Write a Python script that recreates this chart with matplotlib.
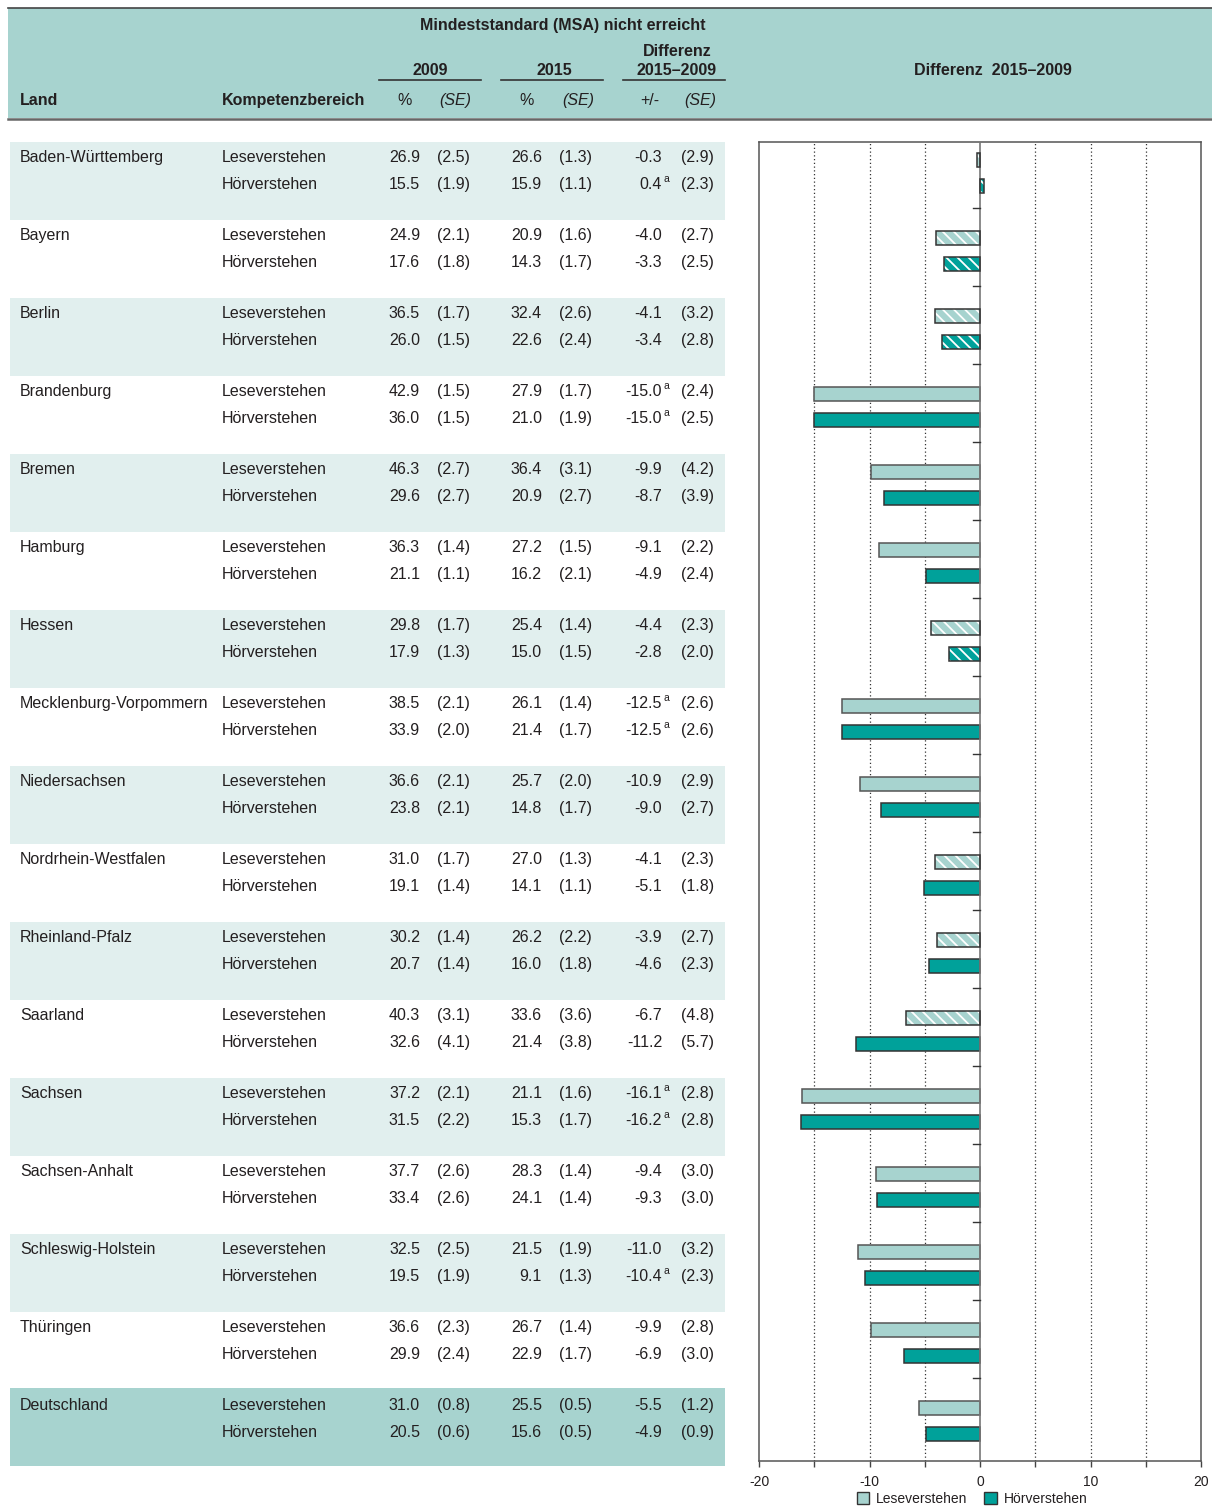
import matplotlib
matplotlib.use("Agg")
import matplotlib.pyplot as plt
from matplotlib.patches import Rectangle, Patch

plt.rcParams['font.family'] = ['Liberation Sans', 'DejaVu Sans']
plt.rcParams['hatch.linewidth'] = 1.3

# ---- data ----
lands = ["Baden-Württemberg", "Bayern", "Berlin", "Brandenburg", "Bremen", "Hamburg",
         "Hessen", "Mecklenburg-Vorpommern", "Niedersachsen", "Nordrhein-Westfalen",
         "Rheinland-Pfalz", "Saarland", "Sachsen", "Sachsen-Anhalt",
         "Schleswig-Holstein", "Thüringen", "Deutschland"]
bereiche = ["Leseverstehen", "Hörverstehen"]

lese_2009 = [26.9, 24.9, 36.5, 42.9, 46.3, 36.3, 29.8, 38.5, 36.6, 31.0, 30.2, 40.3, 37.2, 37.7, 32.5, 36.6, 31.0]
lese_2009_se = [2.5, 2.1, 1.7, 1.5, 2.7, 1.4, 1.7, 2.1, 2.1, 1.7, 1.4, 3.1, 2.1, 2.6, 2.5, 2.3, 0.8]
lese_2015 = [26.6, 20.9, 32.4, 27.9, 36.4, 27.2, 25.4, 26.1, 25.7, 27.0, 26.2, 33.6, 21.1, 28.3, 21.5, 26.7, 25.5]
lese_2015_se = [1.3, 1.6, 2.6, 1.7, 3.1, 1.5, 1.4, 1.4, 2.0, 1.3, 2.2, 3.6, 1.6, 1.4, 1.9, 1.4, 0.5]
lese_diff = [-0.3, -4.0, -4.1, -15.0, -9.9, -9.1, -4.4, -12.5, -10.9, -4.1, -3.9, -6.7, -16.1, -9.4, -11.0, -9.9, -5.5]
lese_diff_se = [2.9, 2.7, 3.2, 2.4, 4.2, 2.2, 2.3, 2.6, 2.9, 2.3, 2.7, 4.8, 2.8, 3.0, 3.2, 2.8, 1.2]
lese_a = [0, 0, 0, 1, 0, 0, 0, 1, 0, 0, 0, 0, 1, 0, 0, 0, 0]
lese_ns = [1, 1, 1, 0, 0, 0, 1, 0, 0, 1, 1, 1, 0, 0, 0, 0, 0]

hoer_2009 = [15.5, 17.6, 26.0, 36.0, 29.6, 21.1, 17.9, 33.9, 23.8, 19.1, 20.7, 32.6, 31.5, 33.4, 19.5, 29.9, 20.5]
hoer_2009_se = [1.9, 1.8, 1.5, 1.5, 2.7, 1.1, 1.3, 2.0, 2.1, 1.4, 1.4, 4.1, 2.2, 2.6, 1.9, 2.4, 0.6]
hoer_2015 = [15.9, 14.3, 22.6, 21.0, 20.9, 16.2, 15.0, 21.4, 14.8, 14.1, 16.0, 21.4, 15.3, 24.1, 9.1, 22.9, 15.6]
hoer_2015_se = [1.1, 1.7, 2.4, 1.9, 2.7, 2.1, 1.5, 1.7, 1.7, 1.1, 1.8, 3.8, 1.7, 1.4, 1.3, 1.7, 0.5]
hoer_diff = [0.4, -3.3, -3.4, -15.0, -8.7, -4.9, -2.8, -12.5, -9.0, -5.1, -4.6, -11.2, -16.2, -9.3, -10.4, -6.9, -4.9]
hoer_diff_se = [2.3, 2.5, 2.8, 2.5, 3.9, 2.4, 2.0, 2.6, 2.7, 1.8, 2.3, 5.7, 2.8, 3.0, 2.3, 3.0, 0.9]
hoer_a = [1, 0, 0, 1, 0, 0, 0, 1, 0, 0, 0, 0, 1, 0, 1, 0, 0]
hoer_ns = [1, 1, 1, 0, 0, 0, 1, 0, 0, 0, 0, 0, 0, 0, 0, 0, 0]

teal_light = "#a7d3cf"
teal_dark = "#00a19a"
band = "#e1efee"
txt = "#231f20"
size = 11.5

W, H = 1212, 1506
fig = plt.figure(figsize=(W / 100, H / 100), dpi=100)

# table in pixel coordinates
ax0 = fig.add_axes([0, 0, 1, 1])
ax0.set_xlim(0, W)
ax0.set_ylim(H, 0)
ax0.axis("off")

# header
ax0.add_patch(Rectangle((8, 8), W - 8, 110, color=teal_light, lw=0))
ax0.plot([8, W], [7.5, 7.5], color="#444", lw=1.2)
ax0.plot([8, W], [118.5, 118.5], color="#666", lw=1.8)

ax0.text(563, 25, "Mindeststandard (MSA) nicht erreicht", ha="center", va="center",
         fontsize=size, fontweight="bold", color=txt)
ax0.text(677, 51, "Differenz", ha="center", va="center", fontsize=size, fontweight="bold", color=txt)
for xc, lab, (x1, x2) in [(430, "2009", (379, 481)), (554, "2015", (501, 603)),
                          (677, "2015–2009", (623, 725))]:
    ax0.text(xc, 70, lab, ha="center", va="center", fontsize=size, fontweight="bold", color=txt)
    ax0.plot([x1, x2], [79.5, 79.5], color="#333", lw=1.2)
ax0.text(20, 100, "Land", ha="left", va="center", fontsize=size, fontweight="bold", color=txt)
ax0.text(222, 100, "Kompetenzbereich", ha="left", va="center", fontsize=size,
         fontweight="bold", color=txt)
for xc, lab, it in [(405, "%", False), (455, "(SE)", True), (527, "%", False),
                    (578, "(SE)", True), (650, "+/-", False), (700, "(SE)", True)]:
    ax0.text(xc, 100, lab, ha="center", va="center", fontsize=size, color=txt,
             style="italic" if it else "normal")
ax0.text(993, 70, "Differenz  2015–2009", ha="center", va="center", fontsize=size,
         fontweight="bold", color=txt)

# rows
for i, land in enumerate(lands):
    top = 142 + 78 * i
    if land == "Deutschland":
        ax0.add_patch(Rectangle((10, top - 2), 715, 78, color=teal_light, lw=0))
    elif i % 2 == 0:
        ax0.add_patch(Rectangle((10, top), 715, 78, color=band, lw=0))
    ax0.text(20, top + 20, land, ha="left", va="baseline", fontsize=size, color=txt)
    rows = [
        (lese_2009, lese_2009_se, lese_2015, lese_2015_se, lese_diff, lese_diff_se, lese_a),
        (hoer_2009, hoer_2009_se, hoer_2015, hoer_2015_se, hoer_diff, hoer_diff_se, hoer_a),
    ]
    for r, (v09, s09, v15, s15, d, sd, fa) in enumerate(rows):
        yb = top + 20 + 27 * r
        ax0.text(222, yb, bereiche[r], ha="left", va="baseline", fontsize=size, color=txt)
        ax0.text(420, yb, f"{v09[i]:.1f}", ha="right", va="baseline", fontsize=size, color=txt)
        ax0.text(470, yb, f"({s09[i]:.1f})", ha="right", va="baseline", fontsize=size, color=txt)
        ax0.text(542, yb, f"{v15[i]:.1f}", ha="right", va="baseline", fontsize=size, color=txt)
        ax0.text(592, yb, f"({s15[i]:.1f})", ha="right", va="baseline", fontsize=size, color=txt)
        ax0.text(662, yb, f"{d[i]:.1f}", ha="right", va="baseline", fontsize=size, color=txt)
        if fa[i]:
            ax0.text(663, yb - 7, "a", ha="left", va="baseline", fontsize=7.5, color=txt)
        ax0.text(714, yb, f"({sd[i]:.1f})", ha="right", va="baseline", fontsize=size, color=txt)

# bar chart
x0, x1, yt, yb_ = 759, 1201, 142, 1461
ax = fig.add_axes([x0 / W, 1 - yb_ / H, (x1 - x0) / W, (yb_ - yt) / H])
span = yb_ - yt
ax.set_xlim(-20, 20)
ax.set_ylim(span, 0)

for g in [-15, -10, -5, 5, 10, 15]:
    ax.axvline(g, color="#333", ls=(0, (1, 2)), lw=0.9, zorder=0)
ax.axvline(0, color="#777", lw=1.2, zorder=3)

bh = 14
for i in range(len(lands)):
    for r, (vals, ns, col, ec) in enumerate([(lese_diff, lese_ns, teal_light, "#555"),
                                             (hoer_diff, hoer_ns, teal_dark, "#333")]):
        yc = 17.5 + 26 * r + 78 * i
        if ns[i]:
            ax.barh(yc, vals[i], height=bh, color=col, edgecolor="white", lw=0,
                    hatch="\\\\\\", zorder=2)
            ax.barh(yc, vals[i], height=bh, fill=False, edgecolor="#333", lw=1.1, zorder=4)
        else:
            ax.barh(yc, vals[i], height=bh, color=col, edgecolor=ec, lw=1.1, zorder=2)

# small ticks on zero line between groups
for i in range(len(lands) - 1):
    yt_ = 66 + 78 * i
    ax.plot([-0.6, 0], [yt_, yt_], color="#333", lw=1, zorder=3)

for s in ax.spines.values():
    s.set_color("#555")
    s.set_linewidth(1.1)
ax.set_yticks([])
ax.set_xticks([-20, -15, -10, -5, 0, 5, 10, 15, 20])
ax.set_xticklabels(["-20", "", "-10", "", "0", "", "10", "", "20"])
ax.tick_params(axis="x", direction="out", length=4, width=1, color="#444",
               labelsize=10, labelcolor=txt, pad=6)

handles = [Patch(facecolor=teal_light, edgecolor="#333", label="Leseverstehen"),
           Patch(facecolor=teal_dark, edgecolor="#333", label="Hörverstehen")]
fig.legend(handles=handles, loc="center", bbox_to_anchor=(972 / W, 1 - 1499 / H), ncol=2,
           frameon=False, fontsize=10, handlelength=0.9, handleheight=0.9,
           handletextpad=0.5, columnspacing=1.2, labelcolor=txt)

fig.savefig("out.png", dpi=100)
